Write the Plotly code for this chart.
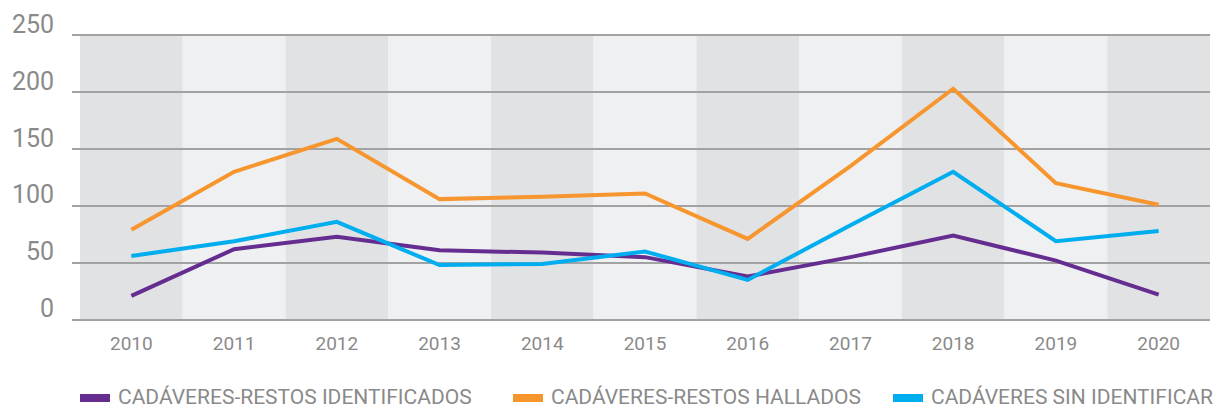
import plotly.graph_objects as go

# Yearly counts, 2010-2020
years = ["2010", "2011", "2012", "2013", "2014", "2015", "2016", "2017", "2018", "2019", "2020"]
identificados = [21, 62, 73, 61, 59, 55, 38, 55, 74, 52, 22]
hallados = [79, 130, 159, 106, 108, 111, 71, 135, 203, 120, 101]
sin_identificar = [56, 69, 86, 48, 49, 60, 35, 83, 130, 69, 78]

series_names = ["CADÁVERES-RESTOS IDENTIFICADOS", "CADÁVERES-RESTOS HALLADOS", "CADÁVERES SIN IDENTIFICAR"]
series_colors = ["#662d91", "#f7962f", "#00aeef"]
series_values = [identificados, hallados, sin_identificar]

y_ticks = [0, 50, 100, 150, 200, 250]

W, H = 1218, 408
ML, MR, MT, MB = 72, 8, 33, 86
plot_w = W - ML - MR
plot_h = H - MT - MB

x_idx = list(range(len(years)))
FONT = "Roboto"
GREY = "#8a8a8a"

fig = go.Figure()
for name, color, vals in zip(series_names, series_colors, series_values):
    fig.add_trace(go.Scatter(
        x=x_idx, y=vals, mode="lines", name=name,
        line=dict(color=color, width=4), showlegend=False,
        hoverinfo="skip",
    ))

# alternating column bands
shapes = []
for i in x_idx:
    shapes.append(dict(
        type="rect", xref="x", yref="y", layer="below",
        x0=i - 0.5, x1=i + 0.5, y0=0, y1=250,
        fillcolor="#e1e2e4" if i % 2 == 0 else "#eff0f2",
        line=dict(width=0),
    ))

annotations = []
# y tick labels sitting just above their gridlines
for v in y_ticks:
    annotations.append(dict(
        x=(56 - ML) / plot_w, xref="paper", y=v, yref="y",
        text=str(v), showarrow=False, xanchor="right", yanchor="middle",
        yshift=11, font=dict(family=FONT, size=25, color=GREY),
    ))

# legend: colour key + label
legend_keys = [(80, 110), (513, 543), (893, 923)]
legend_y = 398
for (k0, k1), name, color in zip(legend_keys, series_names, series_colors):
    shapes.append(dict(
        type="rect", xref="paper", yref="paper", layer="above",
        x0=(k0 - ML) / plot_w, x1=(k1 - ML) / plot_w,
        y0=(H - MB - (legend_y + 4)) / plot_h, y1=(H - MB - (legend_y - 4)) / plot_h,
        fillcolor=color, line=dict(width=0),
    ))
    annotations.append(dict(
        x=(k1 + 7 - ML) / plot_w, xref="paper",
        y=(H - MB - (legend_y - 1)) / plot_h, yref="paper",
        text=name, showarrow=False, xanchor="left", yanchor="middle",
        borderpad=0, font=dict(family=FONT, size=21, color=GREY),
    ))

# x range chosen so the first band starts 8px inside the plot area
band_px = (plot_w - (80 - ML)) / 11.0
x_left = -0.5 - (80 - ML) / band_px

fig.update_layout(
    width=W, height=H,
    margin=dict(l=ML, r=MR, t=MT, b=MB),
    paper_bgcolor="white", plot_bgcolor="white",
    shapes=shapes, annotations=annotations,
    showlegend=False,
    xaxis=dict(
        range=[x_left, 10.5], tickmode="array", tickvals=x_idx, ticktext=years,
        showgrid=False, zeroline=False, showline=False, ticks="",
        ticklabelstandoff=8,
        tickfont=dict(family=FONT, size=19, color=GREY), fixedrange=True,
    ),
    yaxis=dict(
        range=[-2, 252], tickmode="array", tickvals=y_ticks, showticklabels=False,
        showgrid=True, gridcolor="#a2a2a2", gridwidth=2, zeroline=False,
        showline=False, ticks="", fixedrange=True,
    ),
)

fig.write_html("out.html")
